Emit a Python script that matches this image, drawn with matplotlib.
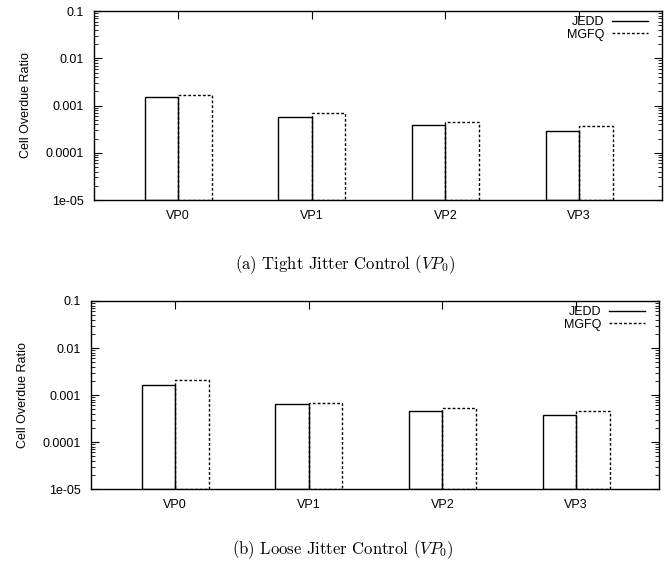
import numpy as np
import matplotlib
matplotlib.use('Agg')
import matplotlib.pyplot as plt
from matplotlib.ticker import FixedLocator, FixedFormatter, LogLocator, NullFormatter

plt.rcParams['font.family'] = ['Liberation Sans', 'DejaVu Sans']
plt.rcParams['mathtext.fontset'] = 'cm'

categories = ["VP0", "VP1", "VP2", "VP3"]
series_names = ["JEDD", "MGFQ"]

# cell overdue ratio
tight_jedd = [0.00148, 0.000575, 0.000384, 0.000283]
tight_mgfq = [0.00163, 0.00068, 0.00043, 0.000355]
loose_jedd = [0.00166, 0.000634, 0.000436, 0.000358]
loose_mgfq = [0.00208, 0.000666, 0.00052, 0.000436]

ytick_vals = [1e-05, 0.0001, 0.001, 0.01, 0.1]
ytick_labels = ["1e-05", "0.0001", "0.001", "0.01", "0.1"]

captions = [r"(a) Tight Jitter Control ($VP_0$)", r"(b) Loose Jitter Control ($VP_0$)"]

dash = (0, (2, 1.5))

fig = plt.figure(figsize=(6.67, 5.66), dpi=100)
ax1 = fig.add_axes([0.1409, 0.6466, 0.8516, 0.3339])
ax2 = fig.add_axes([0.1364, 0.1360, 0.8516, 0.3322])

for ax, jedd, mgfq in [(ax1, tight_jedd, tight_mgfq), (ax2, loose_jedd, loose_mgfq)]:
    x = np.arange(len(categories))
    w = 0.25
    ax.bar(x - w / 2, jedd, width=w, bottom=1e-05, fill=False, edgecolor="black",
           lw=1.0, ls="solid")
    ax.bar(x + w / 2, mgfq, width=w, bottom=1e-05, fill=False, edgecolor="black",
           lw=1.0, ls=dash)
    # gnuplot style key: line samples, text on the left
    ax.plot([], [], c="black", lw=1.0, ls="solid", label=series_names[0])
    ax.plot([], [], c="black", lw=1.0, ls=dash, label=series_names[1])

    ax.set_yscale("log")
    ax.set_ylim(1e-05, 0.1)
    ax.set_xlim(-0.63, 3.62)
    ax.yaxis.set_major_locator(FixedLocator(ytick_vals))
    ax.yaxis.set_major_formatter(FixedFormatter(ytick_labels))
    ax.yaxis.set_minor_locator(LogLocator(base=10, subs=np.arange(2, 10)))
    ax.yaxis.set_minor_formatter(NullFormatter())
    ax.set_xticks(x)
    ax.set_xticklabels(categories)
    ax.tick_params(which="both", direction="in", top=True, right=True,
                   labelsize=9, color="black")
    ax.tick_params(which="major", length=6, width=0.8, pad=7)
    ax.tick_params(which="minor", length=3, width=0.6)
    ax.set_ylabel("Cell Overdue Ratio", fontsize=9, labelpad=10)
    for s in ax.spines.values():
        s.set_linewidth(1.0)
    ax.legend(loc="upper right", bbox_to_anchor=(1 - 14 / 568, 1 - 5 / 189),
              frameon=False, markerfirst=False, fontsize=9, borderpad=0,
              handlelength=2.9, handletextpad=0.6, labelspacing=0.05,
              borderaxespad=0)

fig.text(345 / 667, 1 - 265 / 566, captions[0], ha="center", va="center",
         fontsize=12, family="cmr10")
fig.text(343 / 667, 1 - 550 / 566, captions[1], ha="center", va="center",
         fontsize=12, family="cmr10")

plt.savefig("out.png")
plt.close()
